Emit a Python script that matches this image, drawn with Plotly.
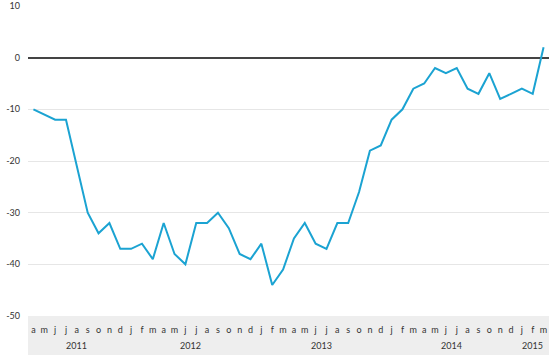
import plotly.graph_objects as go

months = ["a","m","j","j","a","s","o","n","d",
          "j","f","m","a","m","j","j","a","s","o","n","d",
          "j","f","m","a","m","j","j","a","s","o","n","d",
          "j","f","m","a","m","j","j","a","s","o","n","d",
          "j","f","m"]
values = [-10,-11,-12,-12,-21,-30,-34,-32,-37,
          -37,-36,-39,-32,-38,-40,-32,-32,-30,-33,-38,-39,
          -36,-44,-41,-35,-32,-36,-37,-32,-32,-26,-18,-17,
          -12,-10,-6,-5,-2,-3,-2,-6,-7,-3,-8,-7,
          -6,-7,2]
years = ["2011","2012","2013","2014","2015"]
year_start = [0, 9, 21, 33, 45]
year_end = [8, 20, 32, 44, 47]
y_ticks = [10, 0, -10, -20, -30, -40, -50]
y_labels = ["10", "0", "-10", "-20", "-30", "-40", "-50"]

idx = list(range(len(values)))

fig = go.Figure()
fig.add_trace(go.Scatter(x=idx, y=values, mode="lines",
                         line=dict(color="#1ba3d2", width=2)))

fig.add_shape(type="rect", xref="paper", yref="paper", x0=0, x1=1, y0=0, y1=-0.126,
              fillcolor="#eeeeee", line=dict(width=0), layer="below")

for y, s, e in zip(years, year_start, year_end):
    fig.add_annotation(x=(s + e) / 2, y=0, xref="x", yref="paper", text=y,
                       showarrow=False, yanchor="top", yshift=-22,
                       font=dict(size=9, color="#333333", family="Lato"))

fig.update_layout(
    width=560, height=357,
    margin=dict(l=28, r=11, t=6, b=41),
    plot_bgcolor="white", paper_bgcolor="white",
    showlegend=False,
    font=dict(family="Lato", size=9, color="#333333"),
    xaxis=dict(range=[-0.5, 47.5], tickvals=idx, ticktext=months, tickangle=0,
               showgrid=False, zeroline=False, showline=False, automargin=False,
               ticks="outside", ticklen=5, tickcolor="rgba(0,0,0,0)",
               tickfont=dict(size=9, color="#333333")),
    yaxis=dict(range=[-50, 10], tickvals=y_ticks, ticktext=y_labels, showgrid=True,
               gridcolor="#e6e6e6", gridwidth=1, automargin=False,
               zeroline=True, zerolinecolor="#444444", zerolinewidth=2,
               showline=False, ticklabelstandoff=7,
               tickfont=dict(size=9, color="#333333")),
)

fig.write_html("out.html", config={"displayModeBar": False},
               post_script="document.body.style.margin='0';")
